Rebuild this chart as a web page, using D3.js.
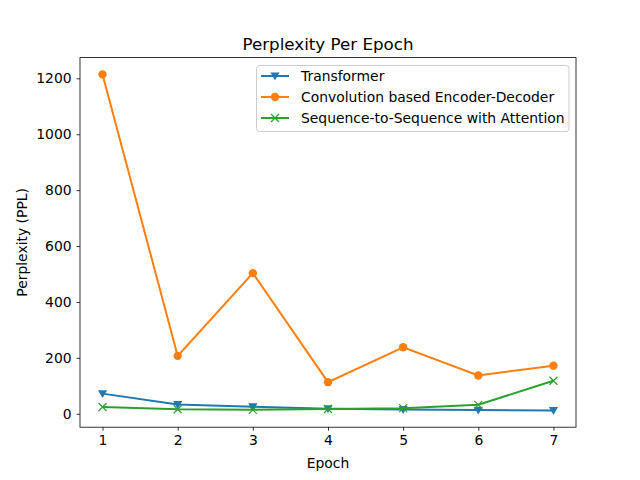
<!DOCTYPE html>
<html><head><meta charset="utf-8">
<script src="https://cdn.jsdelivr.net/npm/d3@7"></script>
<style>body{margin:0;background:#fff}svg{display:block}text{font-family:"DejaVu Sans",sans-serif}</style>
</head><body>
<script>
const epochs = [1,2,3,4,5,6,7];
const transformer = [72,33,25,18,15,13,12];
const convEncDec = [1214,207,503,113,238,137,172];
const seq2seq = [24,16,14,17,20,32,118];
const seriesNames = ["Transformer","Convolution based Encoder-Decoder","Sequence-to-Sequence with Attention"];
const yTicks = [0,200,400,600,800,1000,1200];

const W=640,H=480, L=80,R=576,T=57.6,B=427.2;
const svg=d3.select("body").append("svg").attr("width",W).attr("height",H);
const allY = transformer.concat(convEncDec, seq2seq);
const ymin=d3.min(allY), ymax=d3.max(allY), yp=(ymax-ymin)*0.05;
const x=d3.scaleLinear().domain([0.7,7.3]).range([L,R]);
const y=d3.scaleLinear().domain([ymin-yp,ymax+yp]).range([B,T]);

const series=[
 {name:seriesNames[0],vals:transformer,color:"#1f77b4",marker:"tri"},
 {name:seriesNames[1],vals:convEncDec,color:"#ff7f0e",marker:"circle"},
 {name:seriesNames[2],vals:seq2seq,color:"#2ca02c",marker:"x"}
];
function drawMarker(g,m,color,cx,cy){
  if(m==="circle") g.append("circle").attr("cx",cx).attr("cy",cy).attr("r",4.2).attr("fill",color);
  else if(m==="tri"){const s=4.6;g.append("path").attr("d",`M${cx-s},${cy-s*0.75}L${cx+s},${cy-s*0.75}L${cx},${cy+s*0.95}Z`).attr("fill",color);}
  else {const s=4;g.append("path").attr("d",`M${cx-s},${cy-s}L${cx+s},${cy+s}M${cx-s},${cy+s}L${cx+s},${cy-s}`).attr("stroke",color).attr("stroke-width",1.2).attr("fill","none");}
}
const plot=svg.append("g");
const line=d3.line().x((d,i)=>x(epochs[i])).y(d=>y(d));
series.forEach(s=>{
  plot.append("path").datum(s.vals).attr("d",line).attr("fill","none").attr("stroke",s.color).attr("stroke-width",2);
  s.vals.forEach((v,i)=>drawMarker(plot,s.marker,s.color,x(epochs[i]),y(v)));
});
// axes
const xa=svg.append("g").attr("transform",`translate(0,${B})`).call(d3.axisBottom(x).tickValues(epochs).tickSize(3.5).tickPadding(4.9).tickFormat(d3.format("d")));
const ya=svg.append("g").attr("transform",`translate(${L},0)`).call(d3.axisLeft(y).tickValues(yTicks).tickSize(3.5).tickPadding(4.9).tickFormat(d3.format("d")));
[xa,ya].forEach(a=>{a.select(".domain").remove();a.selectAll("text").attr("font-size",13.9).attr("fill","#000").attr("font-family","DejaVu Sans");a.selectAll("line").attr("stroke","#000").attr("stroke-width",0.8);});
svg.append("rect").attr("x",L).attr("y",T).attr("width",R-L).attr("height",B-T).attr("fill","none").attr("stroke","#000").attr("stroke-width",0.8);
svg.append("text").attr("x",(L+R)/2).attr("y",T-8).attr("text-anchor","middle").attr("font-size",16.7).text("Perplexity Per Epoch");
svg.append("text").attr("x",(L+R)/2).attr("y",468).attr("text-anchor","middle").attr("font-size",13.9).text("Epoch");
svg.append("text").attr("transform",`translate(27,${(T+B)/2}) rotate(-90)`).attr("text-anchor","middle").attr("font-size",13.9).text("Perplexity (PPL)");
// legend
const lg=svg.append("g");
lg.append("rect").attr("x",256.5).attr("y",65.5).attr("width",312.5).attr("height",66).attr("rx",3).attr("fill","#fff").attr("fill-opacity",0.8).attr("stroke","#ccc").attr("stroke-width",1);
series.forEach((s,i)=>{
  const cy=76+i*21;
  lg.append("line").attr("x1",261).attr("x2",289).attr("y1",cy).attr("y2",cy).attr("stroke",s.color).attr("stroke-width",2);
  drawMarker(lg,s.marker,s.color,275,cy);
  lg.append("text").attr("x",301).attr("y",cy+5).attr("font-size",13.9).text(s.name);
});
</script>
</body></html>
